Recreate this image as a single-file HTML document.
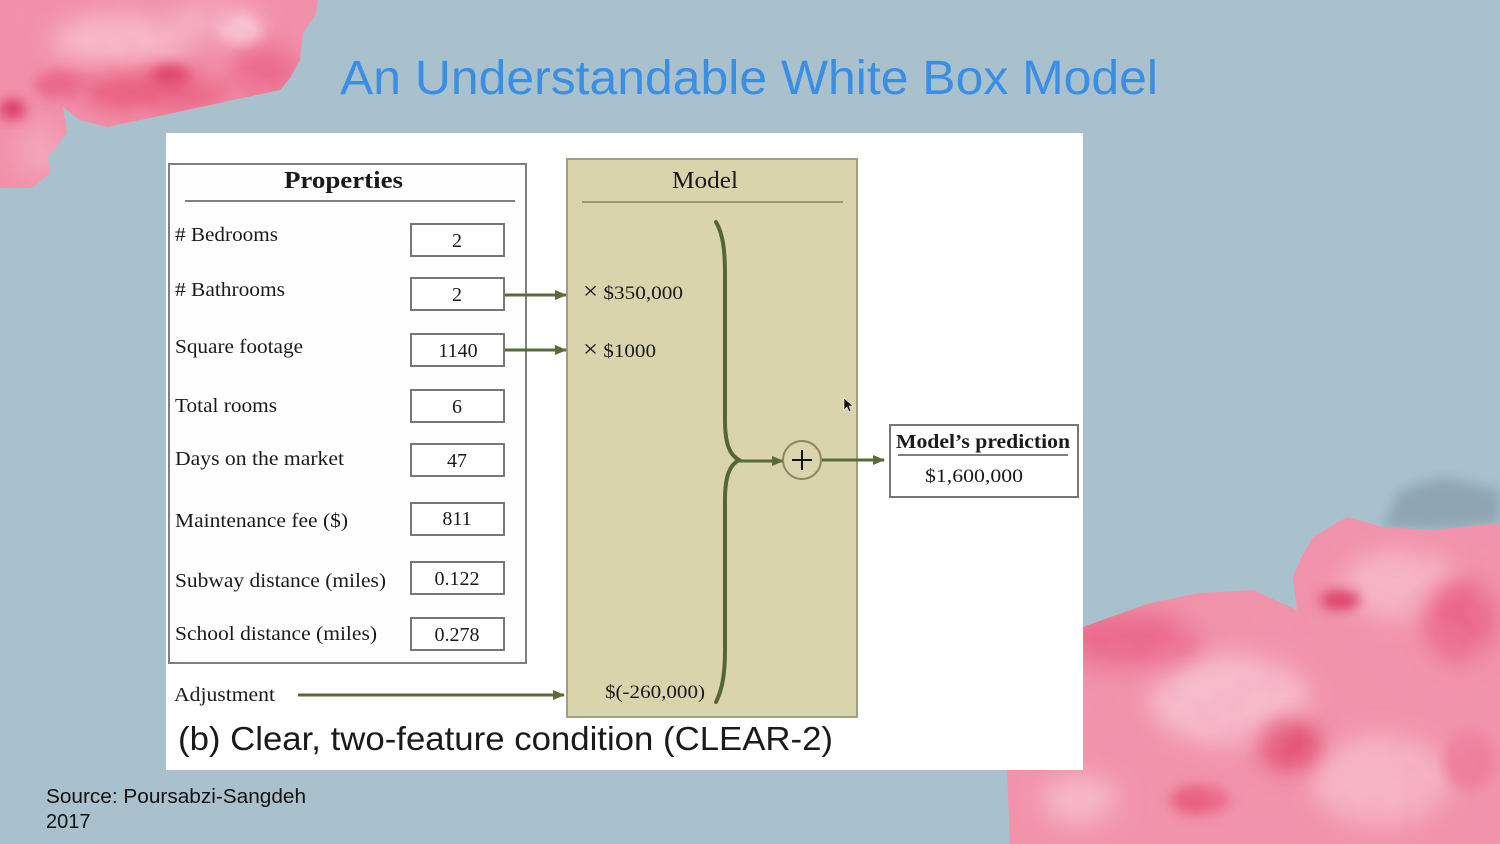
<!DOCTYPE html>
<html>
<head>
<meta charset="utf-8">
<style>
  html,body{margin:0;padding:0;background:#a8c1cd;}
  body{width:1500px;height:844px;overflow:hidden;position:relative;}
  svg{position:absolute;left:0;top:0;}
  .serif{font-family:"Liberation Serif",serif;fill:#1a1a1a;}
  .sans{font-family:"Liberation Sans",Arial,sans-serif;}
</style>
</head>
<body>
<svg width="1500" height="844" viewBox="0 0 1500 844" xmlns="http://www.w3.org/2000/svg">
  <defs>
    <filter id="blur6" x="-50%" y="-50%" width="200%" height="200%"><feGaussianBlur stdDeviation="6"/></filter>
    <filter id="blur12" x="-50%" y="-50%" width="200%" height="200%"><feGaussianBlur stdDeviation="12"/></filter>
    <filter id="tex" x="0" y="0" width="100%" height="100%">
      <feTurbulence type="fractalNoise" baseFrequency="0.02" numOctaves="3" seed="4" result="n"/>
      <feColorMatrix in="n" type="matrix" values="0 0 0 0 0.88  0 0 0 0 0.30  0 0 0 0 0.45  0 0 0 -2.2 1.25" result="c"/>
      <feComposite in="c" in2="SourceGraphic" operator="in"/>
    </filter>
    <clipPath id="tlclip">
      <path d="M0,0 L318,0 L316,14 L303,33 L300,60 L290,78 L280,90 L233,100 L187,110 L140,120 L107,127 L80,120 L63,107 L67,133 L48,157 L50,173 L32,188 L0,188 Z"/>
    </clipPath>
    <clipPath id="brclip">
      <path d="M1500,523 L1433,530 L1383,527 L1347,517 L1313,537 L1300,560 L1293,577 L1297,610 L1253,590 L1200,593 L1150,603 L1083,627 L1040,660 L1010,720 L1007,770 L1010,844 L1500,844 Z"/>
    </clipPath>
    <marker id="ah" markerWidth="12" markerHeight="10" refX="11" refY="5" orient="auto" markerUnits="userSpaceOnUse">
      <path d="M0,0 L12,5 L0,10 Z" fill="#5b6a3c"/>
    </marker>
  </defs>

  <!-- background -->
  <rect x="0" y="0" width="1500" height="844" fill="#a8c1cd"/>

  <!-- top-left cotton candy -->
  <g clip-path="url(#tlclip)">
    <rect x="0" y="0" width="330" height="200" fill="#f290aa"/>
    <ellipse cx="120" cy="40" rx="70" ry="26" fill="#f7b8c8" filter="url(#blur12)"/>
    <ellipse cx="215" cy="22" rx="50" ry="18" fill="#f6b2c3" filter="url(#blur12)"/>
    <ellipse cx="40" cy="150" rx="26" ry="26" fill="#f4a6ba" filter="url(#blur12)"/>
    <ellipse cx="150" cy="92" rx="80" ry="20" fill="#e9607f" filter="url(#blur12)"/>
    <ellipse cx="265" cy="72" rx="35" ry="25" fill="#eb6a8c" filter="url(#blur12)"/>
    <ellipse cx="12" cy="110" rx="14" ry="10" fill="#db3560" filter="url(#blur6)"/>
    <ellipse cx="170" cy="75" rx="20" ry="10" fill="#e0476f" filter="url(#blur6)"/>
    <ellipse cx="60" cy="85" rx="25" ry="14" fill="#ea6589" filter="url(#blur6)"/>
    <ellipse cx="240" cy="30" rx="22" ry="14" fill="#f8c6d3" filter="url(#blur6)"/>
    <rect x="0" y="0" width="330" height="200" filter="url(#tex)" opacity="0.35"/>
  </g>

  <!-- bottom-right cotton candy -->
  <path d="M1383,527 L1400,490 L1443,477 L1500,490 L1500,523 L1433,530 Z" fill="#8fa5b2" filter="url(#blur6)"/>
  <g clip-path="url(#brclip)">
    <rect x="1000" y="500" width="500" height="344" fill="#f193ab"/>
    <ellipse cx="1400" cy="585" rx="60" ry="35" fill="#f6b4c4" filter="url(#blur12)"/>
    <ellipse cx="1230" cy="700" rx="80" ry="45" fill="#f7bccb" filter="url(#blur12)"/>
    <ellipse cx="1380" cy="780" rx="70" ry="45" fill="#f6b4c4" filter="url(#blur12)"/>
    <ellipse cx="1130" cy="640" rx="70" ry="28" fill="#eb6b8d" filter="url(#blur12)"/>
    <ellipse cx="1290" cy="745" rx="30" ry="25" fill="#e2506f" filter="url(#blur12)"/>
    <ellipse cx="1460" cy="620" rx="35" ry="40" fill="#ea6689" filter="url(#blur12)"/>
    <ellipse cx="1340" cy="600" rx="20" ry="10" fill="#dc3f68" filter="url(#blur6)"/>
    <ellipse cx="1080" cy="800" rx="40" ry="25" fill="#f6b6c6" filter="url(#blur12)"/>
    <ellipse cx="1200" cy="800" rx="30" ry="15" fill="#e9607f" filter="url(#blur6)"/>
    <ellipse cx="1470" cy="760" rx="25" ry="30" fill="#ee7f9c" filter="url(#blur6)"/>
    <rect x="1000" y="500" width="500" height="344" filter="url(#tex)" opacity="0.35"/>
  </g>

  <!-- title -->
  <text x="340" y="94" class="sans" font-size="48" fill="#3a8ee4" textLength="818" lengthAdjust="spacingAndGlyphs">An Understandable White Box Model</text>

  <!-- white image panel -->
  <rect x="166" y="133" width="917" height="637" fill="#ffffff"/>

  <!-- Properties box -->
  <rect x="169" y="164" width="357" height="499" fill="#fefefe" stroke="#7f7f7f" stroke-width="2"/>
  <text x="284" y="188" class="serif" font-size="24" font-weight="bold" textLength="119" lengthAdjust="spacingAndGlyphs">Properties</text>
  <line x1="185" y1="201" x2="515" y2="201" stroke="#7f7f7f" stroke-width="2"/>

  <g class="serif" font-size="20">
    <text x="175" y="241" textLength="103" lengthAdjust="spacingAndGlyphs"># Bedrooms</text>
    <text x="175" y="296" textLength="110" lengthAdjust="spacingAndGlyphs"># Bathrooms</text>
    <text x="175" y="353" textLength="128" lengthAdjust="spacingAndGlyphs">Square footage</text>
    <text x="175" y="412" textLength="102" lengthAdjust="spacingAndGlyphs">Total rooms</text>
    <text x="175" y="465" textLength="169" lengthAdjust="spacingAndGlyphs">Days on the market</text>
    <text x="175" y="527" textLength="173" lengthAdjust="spacingAndGlyphs">Maintenance fee ($)</text>
    <text x="175" y="587" textLength="211" lengthAdjust="spacingAndGlyphs">Subway distance (miles)</text>
    <text x="175" y="640" textLength="202" lengthAdjust="spacingAndGlyphs">School distance (miles)</text>
    <text x="174" y="701" textLength="101" lengthAdjust="spacingAndGlyphs">Adjustment</text>
  </g>

  <!-- value boxes -->
  <g fill="#ffffff" stroke="#777777" stroke-width="2">
    <rect x="411" y="224" width="93" height="32"/>
    <rect x="411" y="278" width="93" height="32"/>
    <rect x="411" y="334" width="93" height="32"/>
    <rect x="411" y="390" width="93" height="32"/>
    <rect x="411" y="444" width="93" height="32"/>
    <rect x="411" y="503" width="93" height="32"/>
    <rect x="411" y="562" width="93" height="32"/>
    <rect x="411" y="618" width="93" height="32"/>
  </g>
  <g class="serif" font-size="20" text-anchor="middle">
    <text x="457" y="247">2</text>
    <text x="457" y="301">2</text>
    <text x="458" y="357">1140</text>
    <text x="457" y="413">6</text>
    <text x="457" y="467">47</text>
    <text x="457" y="525">811</text>
    <text x="457" y="585">0.122</text>
    <text x="457" y="641">0.278</text>
  </g>

  <!-- Model box -->
  <rect x="567" y="159" width="290" height="558" fill="#d9d4ab" stroke="#a39e7f" stroke-width="2"/>
  <text x="672" y="188" class="serif" font-size="24" textLength="66" lengthAdjust="spacingAndGlyphs">Model</text>
  <line x1="582" y1="202" x2="843" y2="202" stroke="#9a9577" stroke-width="2"/>

  <g class="serif" font-size="19">
    <text x="583" y="299" textLength="100" lengthAdjust="spacingAndGlyphs"><tspan font-size="24">×</tspan> $350,000</text>
    <text x="583" y="357" textLength="73" lengthAdjust="spacingAndGlyphs"><tspan font-size="24">×</tspan> $1000</text>
    <text x="605" y="698" textLength="100" lengthAdjust="spacingAndGlyphs">$(-260,000)</text>
  </g>

  <!-- brace -->
  <path d="M716,222 C723,234 725,250 725,275 L725,420 C725,445 730,455 739,460 C730,465 725,475 725,500 L725,650 C725,675 722,690 716,702" fill="none" stroke="#55653a" stroke-width="4" stroke-linecap="round"/>

  <!-- arrows -->
  <g stroke="#5b6a3c" stroke-width="3" fill="none">
    <line x1="505" y1="295" x2="566" y2="295" marker-end="url(#ah)"/>
    <line x1="505" y1="350" x2="566" y2="350" marker-end="url(#ah)"/>
    <line x1="298" y1="695" x2="564" y2="695" marker-end="url(#ah)"/>
    <line x1="739" y1="461" x2="783" y2="461" marker-end="url(#ah)"/>
    <line x1="822" y1="460" x2="884" y2="460" marker-end="url(#ah)"/>
  </g>

  <!-- plus circle -->
  <circle cx="802" cy="460" r="19" fill="#dad5ad" stroke="#8c8566" stroke-width="2"/>
  <line x1="792" y1="460" x2="812" y2="460" stroke="#111" stroke-width="2"/>
  <line x1="802" y1="450" x2="802" y2="470" stroke="#111" stroke-width="2"/>

  <!-- cursor -->
  <path d="M844,398 L844,410 L847,407 L849,412 L851,411 L849,406 L853,406 Z" fill="#111" stroke="#fff" stroke-width="0.6"/>

  <!-- prediction box -->
  <rect x="890" y="425" width="188" height="72" fill="#ffffff" stroke="#777777" stroke-width="2"/>
  <text x="896" y="448" class="serif" font-size="20" font-weight="bold" textLength="174" lengthAdjust="spacingAndGlyphs">Model’s prediction</text>
  <line x1="898" y1="455" x2="1068" y2="455" stroke="#7f7f7f" stroke-width="2"/>
  <text x="925" y="482" class="serif" font-size="19" textLength="98" lengthAdjust="spacingAndGlyphs">$1,600,000</text>

  <!-- caption -->
  <text x="178" y="750" class="sans" font-size="33" fill="#1a1a1a" textLength="655" lengthAdjust="spacingAndGlyphs">(b) Clear, two-feature condition (CLEAR-2)</text>

  <!-- source -->
  <text x="46" y="803" class="sans" font-size="20" fill="#111" textLength="260" lengthAdjust="spacingAndGlyphs">Source: Poursabzi-Sangdeh</text>
  <text x="46" y="828" class="sans" font-size="20" fill="#111">2017</text>
</svg>
</body>
</html>
